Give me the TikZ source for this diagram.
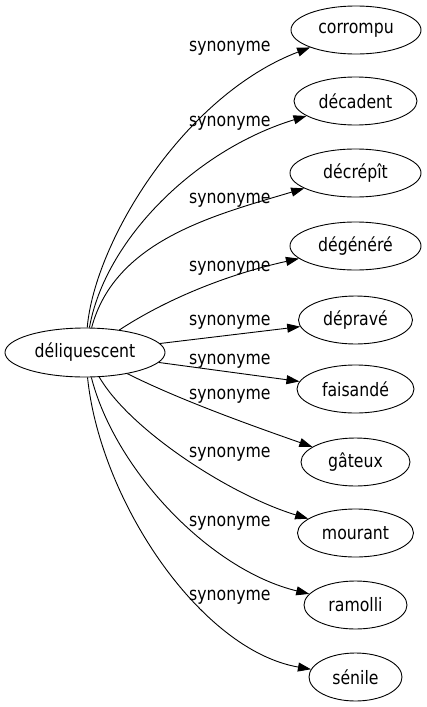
\documentclass[tikz,border=0pt]{standalone}
\usepackage{fontspec}
\setmainfont{DejaVu Sans}[FakeStretch=0.85]
\usetikzlibrary{shapes.geometric,arrows.meta}
\begin{document}
\begin{tikzpicture}[x=1pt,y=-1pt,
  every node/.style={font=\fontsize{18.5}{20}\selectfont},
  word/.style={draw,ellipse,inner sep=0pt,minimum height=48pt,line width=0.9pt},
  rel/.style={draw,line width=0.9pt,-{Triangle[length=13pt,width=9pt]}},
  lab/.style={anchor=base west,inner sep=0pt}]
\useasboundingbox (0,0) rectangle (427,707);
\node[word,minimum width=160pt,minimum height=49pt] (src) at (85,352.5) {déliquescent};
\node[word,minimum width=130pt] (t1) at (356,30) {corrompu};
\node[word,minimum width=123pt] (t2) at (355.5,101) {décadent};
\node[word,minimum width=131pt] (t3) at (355.5,173) {décrépît};
\node[word,minimum width=131pt] (t4) at (355.5,246) {dégénéré};
\node[word,minimum width=114pt] (t5) at (355.5,320) {dépravé};
\node[word,minimum width=117pt] (t6) at (355.5,389) {faisandé};
\node[word,minimum width=109pt] (t7) at (355.5,462) {gâteux};
\node[word,minimum width=116pt] (t8) at (355.5,533) {mourant};
\node[word,minimum width=103pt] (t9) at (355.5,605) {ramolli};
\node[word,minimum width=93pt] (t10) at (355.5,677) {sénile};
\draw[rel] (src) .. controls (95,240) and (185,95) .. (t1);
\draw[rel] (src) .. controls (105,240) and (195,150) .. (t2);
\draw[rel] (src) .. controls (115,240) and (215,215) .. (t3);
\draw[rel] (src) .. controls (165,300) and (225,275) .. (t4);
\draw[rel] (src) -- (t5);
\draw[rel] (src) -- (t6);
\draw[rel] (src) .. controls (180,400) and (250,425) .. (t7);
\draw[rel] (src) .. controls (130,430) and (230,495) .. (t8);
\draw[rel] (src) .. controls (115,470) and (210,570) .. (t9);
\draw[rel] (src) .. controls (100,500) and (200,650) .. (t10);
\node[lab] (l1) at (189,51.7) {synonyme};
\node[lab] (l2) at (189,126.7) {synonyme};
\node[lab] (l3) at (189,203) {synonyme};
\node[lab] (l4) at (189,271) {synonyme};
\node[lab] (l5) at (189,325) {synonyme};
\node[lab] (l6) at (189,364) {synonyme};
\node[lab] (l7) at (189,399) {synonyme};
\node[lab] (l8) at (189,457.3) {synonyme};
\node[lab] (l9) at (189,526) {synonyme};
\node[lab] (l10) at (189,600) {synonyme};
\end{tikzpicture}
\end{document}
